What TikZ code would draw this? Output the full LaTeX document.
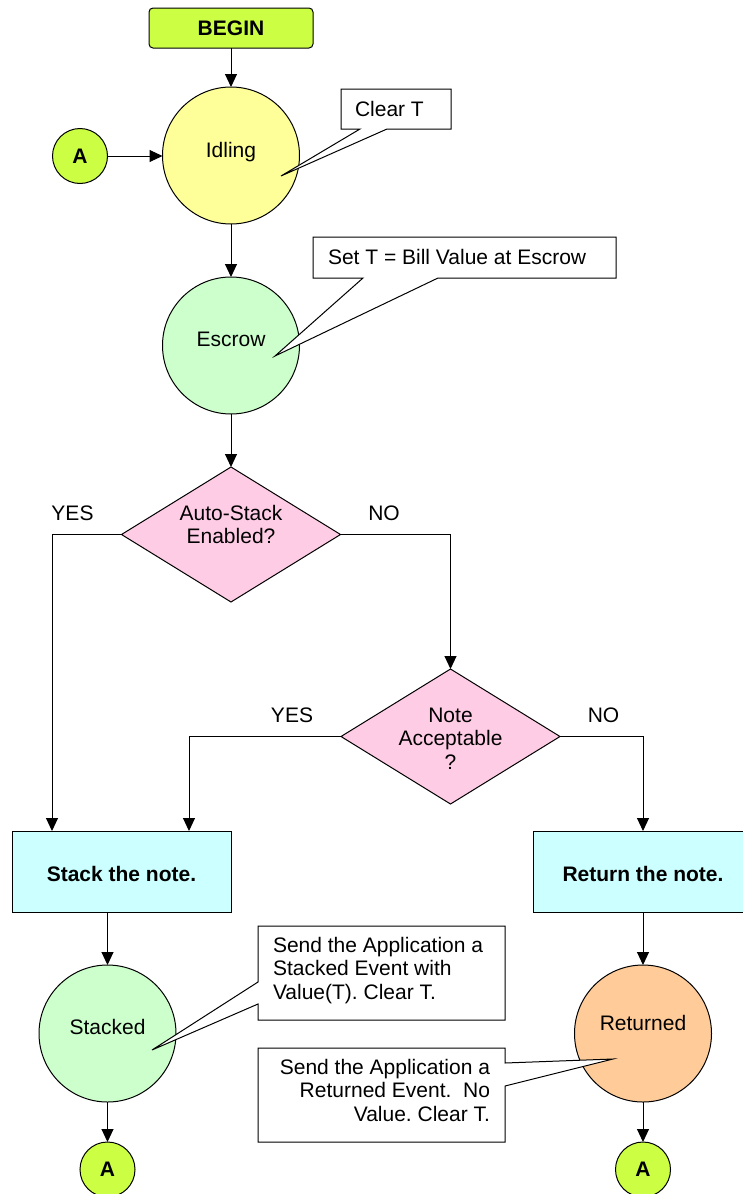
\documentclass[tikz,border=0pt]{standalone}
\usepackage{fontspec}
\setmainfont{Liberation Sans}
\usetikzlibrary{arrows.meta,shapes.geometric,calc}
\frenchspacing

\definecolor{lime}{HTML}{CCFF44}
\definecolor{idleyellow}{HTML}{FFFF99}
\definecolor{stategreen}{HTML}{CCFFCC}
\definecolor{decpink}{HTML}{FFCCE6}
\definecolor{actcyan}{HTML}{CCFFFF}
\definecolor{retorange}{HTML}{FFCC99}

\begin{document}
\begin{tikzpicture}[x=1pt, y=-1pt,
  font=\fontsize{21}{23.5}\selectfont,
  line width=1pt,
  every node/.style={inner sep=0pt, outer sep=0pt},
  flow/.style={-{Triangle[width=12pt,length=13pt]}},
  state/.style={circle, draw, minimum size=137pt},
  conn/.style={circle, draw, fill=lime, minimum size=55pt, font=\fontsize{21}{23.5}\selectfont\bfseries},
  decision/.style={diamond, draw, fill=decpink, minimum width=219pt, minimum height=135pt},
  action/.style={rectangle, draw, fill=actcyan, minimum width=219pt, minimum height=81pt,
                 font=\fontsize{21}{23.5}\selectfont\bfseries, text height=20.4pt, text depth=0pt},
  notebox/.style={rectangle, anchor=north west},
  notewedge/.style={draw, fill=white},
  branch/.style={font=\fontsize{21}{23.5}\selectfont}
]
\useasboundingbox (0,0) rectangle (742,1194);

% ---- start and idle state
\node[rectangle, rounded corners=4pt, draw, fill=lime, minimum width=164pt, minimum height=40pt,
      font=\fontsize{21}{23.5}\selectfont\bfseries] (begin) at (231,28) {BEGIN};
\node[state, fill=idleyellow] (idl) at (231,155.5) {};
\node[anchor=base] (idltxt) at (231,157) {Idling};
\node[conn] (aTop) at (80,156) {A};

% ---- escrow state
\node[state, fill=stategreen] (esc) at (231,345.5) {};
\node[anchor=base] (esctxt) at (231,346.5) {Escrow};

% ---- decisions
\node[decision] (d1) at (231,534.5) {};
\node[align=center] (d1txt) at (231,524.4) {Auto-Stack\\Enabled?};
\node[decision] (d2) at (450.5,736.5) {};
\node[align=center] (d2txt) at (450.5,738.7) {Note\\Acceptable\\?};

\node[branch] (yes1) at (72.5,513) {YES};
\node[branch] (no1) at (384,513) {NO};
\node[branch] (yes2) at (292,715.5) {YES};
\node[branch] (no2) at (603.5,715.5) {NO};

% ---- actions
\node[action] (stk) at (121.5,871.5) {Stack the note.};
\node[action] (ret) at (643,871.5) {Return the note.};

% ---- final states
\node[state, fill=stategreen] (stkd) at (107.5,1033.5) {};
\node[anchor=base] (stkdtxt) at (107.5,1034) {Stacked};
\node[state, fill=retorange] (rtd) at (643,1033.5) {};
\node[anchor=base] (rtdtxt) at (643,1030.5) {Returned};

\node[conn] (aBL) at (107.5,1169.5) {A};
\node[conn] (aBR) at (643,1169.5) {A};

% ---- connectors
\draw[flow] (begin) -- (idl);
\draw[flow] (aTop) -- (aTop -| idl.west);
\draw[flow] (idl) -- (esc);
\draw[flow] (esc) -- (d1);
\draw[flow] (d1.west) -| ([xshift=40pt]stk.north west);
\draw[flow] (d1.east) -| (d2.north);
\draw[flow] (d2.west) -| ([xshift=177pt]stk.north west);
\draw[flow] (d2.east) -| (ret.north);
\draw[flow] (stkd.north |- stk.south) -- (stkd.north);
\draw[flow] (ret) -- (rtd);
\draw[flow] (stkd) -- (aBL);
\draw[flow] (rtd) -- (aBR);

% ---- callout: Clear T
\node[notebox, minimum width=110pt, minimum height=40pt] (clrbox) at (341,89) {};
\coordinate (clrtip) at (281,176);
\draw[notewedge] (clrbox.north west) -- (clrbox.north east) -- (clrbox.south east)
  -- (387,129) -- (clrtip) -- (360,129) -- (clrbox.south west) -- cycle;
\node[anchor=base west] (clrtxt) at (355,116) {Clear T};

% ---- callout: Set T
\node[notebox, minimum width=303pt, minimum height=41pt] (setbox) at (313,237) {};
\coordinate (settip) at (275,356);
\draw[notewedge] (setbox.north west) -- (setbox.north east) -- (setbox.south east)
  -- (438,278) -- (settip) -- (363,278) -- (setbox.south west) -- cycle;
\node[anchor=base west] (settxt) at (328,264) {Set T = Bill Value at Escrow};

% ---- callout: stacked event
\node[notebox, minimum width=247pt, minimum height=94pt] (sevbox) at (258,926) {};
\coordinate (sevtip) at (152,1050);
\draw[notewedge] (sevbox.north west) -- (sevbox.north east) -- (sevbox.south east)
  -- (sevbox.south west) -- (258,1004) -- (sevtip) -- (258,982) -- cycle;
\node[anchor=west, align=left] (sevtxt) at (273,970.2)
  {Send the Application a\\Stacked Event with\\Value(T). Clear T.};

% ---- callout: returned event
\node[notebox, minimum width=247pt, minimum height=94pt] (revbox) at (258,1048) {};
\coordinate (revtip) at (613,1059);
\draw[notewedge] (revbox.north west) -- (revbox.north east) -- (505,1063) -- (revtip)
  -- (505,1086) -- (revbox.south east) -- (revbox.south west) -- cycle;
\node[anchor=east, align=right] (revtxt) at (490,1090)
  {Send the Application a\\Returned Event.\ \ No\\Value. Clear T.};

\end{tikzpicture}
\end{document}
